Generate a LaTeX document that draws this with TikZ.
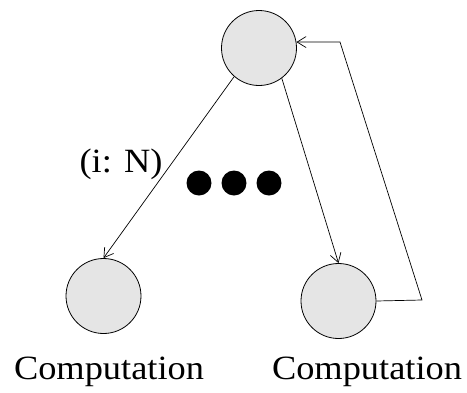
\documentclass[tikz,border=0pt]{standalone}
\usepackage{fontspec}
\setmainfont{Liberation Serif}[FakeStretch=1.07]
\usepackage{tikz}
\usetikzlibrary{arrows.meta, calc}
\tikzset{proc/.style={circle, draw, fill=black!10, line width=0.8pt, minimum size=75pt, inner sep=0pt}}
\tikzset{dot/.style={circle, fill=black, minimum size=25pt, inner sep=0pt}}
\tikzset{link/.style={line width=0.7pt, -{Straight Barb[length=9pt, width=11pt]}}}
\tikzset{every node/.append style={font=\fontsize{34}{40}\selectfont}}

\begin{document}
\begin{tikzpicture}[x=1pt, y=-1pt]

      \useasboundingbox (0,0) rectangle (467,392);

      % PROCESSES

      \node[proc] (top) at (259,48) {};
      \node[proc] (left) at (103.5,296) {};
      \node[proc] (right) at (338.5,301) {};

      % DOTS

      \node[dot] (d0) at (199,183) {};
      \node[dot] (d1) at (234,183) {};
      \node[dot] (d2) at (269,183) {};

      % LABELS

      \node[anchor=base] (iLabel) at (121,172) {(i: N)};
      \node[anchor=base] (lLabel) at (109,379) {Computation};
      \node[anchor=base] (rLabel) at (367,379) {Computation};

      % ARCS
      \draw[link] (top.229) -- (left.north);
      \draw[link] (top.-53) -- (right.north);

      \coordinate (c0) at (422,300);
      \coordinate (c1) at (340,42);
      \draw[link] (right.east) -- (c0) -- (c1) -- (top.9);
    \end{tikzpicture}
\end{document}
